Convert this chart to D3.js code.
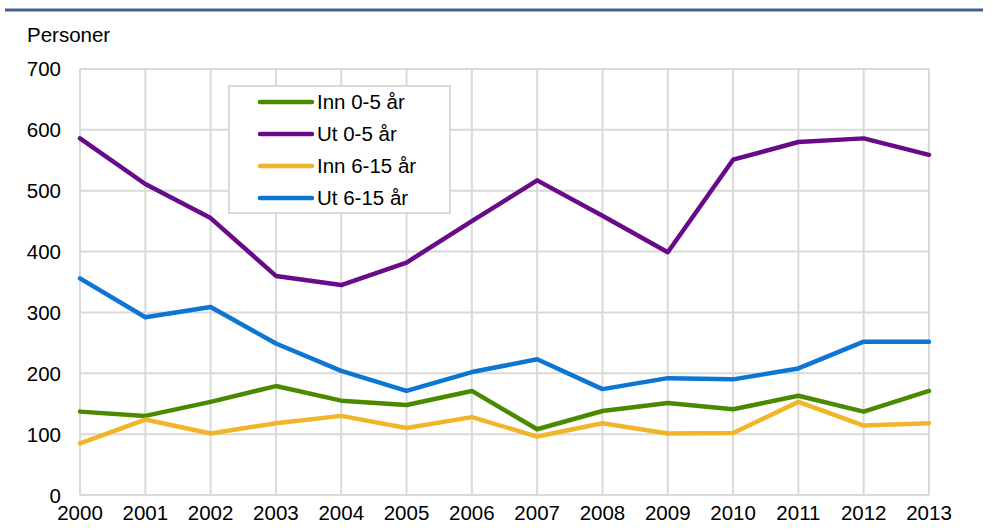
<!DOCTYPE html>
<head>
  <meta charset="utf-8">
  <script src="https://d3js.org/d3.v7.min.js"></script>
  <style>
    body { margin:0; background:#fff; }
    text { font-family: 'Liberation Sans', Arial, sans-serif; fill: #000; }
    .grid-line { stroke: #d9d9d9; stroke-width: 2; }
    .tick-label { font-size: 20.5px; }
    .series-line { fill: none; stroke-width: 4.5; stroke-linejoin: round; stroke-linecap: round; }
    .legend-text { font-size: 20.5px; }
  </style>
</head>
<body>
  <script>
    var years = [2000, 2001, 2002, 2003, 2004, 2005, 2006, 2007, 2008, 2009, 2010, 2011, 2012, 2013];
    var yTicks = [0, 100, 200, 300, 400, 500, 600, 700];

    var seriesNames = ["Inn 0-5 år", "Ut 0-5 år", "Inn 6-15 år", "Ut 6-15 år"];
    var seriesColours = ["#4a8a00", "#680a8a", "#f0b528", "#0c76d2"];

    var inn05  = [137, 130, 153, 179, 155, 148, 171, 108, 138, 151, 141, 163, 137, 171];
    var ut05   = [586, 511, 455, 360, 345, 382, 450, 517, 459, 399, 551, 580, 586, 559];
    var inn615 = [85, 124, 101, 118, 130, 110, 128, 96, 118, 101, 102, 153, 114, 118];
    var ut615  = [356, 292, 309, 249, 204, 171, 202, 223, 174, 192, 190, 208, 252, 252];

    var seriesValues = [inn05, ut05, inn615, ut615];

    var margin = {top: 69, left: 80, right: 64, bottom: 37};
    var W = 993, H = 532;
    var width = W - margin.left - margin.right,
        height = H - margin.top - margin.bottom;

    var root = d3.select("body").append("svg")
        .attr("width", W)
        .attr("height", H);

    // heading rule
    root.append("line")
      .attr("x1", 5).attr("x2", 983)
      .attr("y1", 10).attr("y2", 10)
      .style("stroke", "#44618f")
      .style("stroke-width", 3);

    root.append("text")
      .attr("x", 27).attr("y", 41.5)
      .style("font-size", "20.5px")
      .text("Personer");

    var svg = root.append("g")
      .attr("transform", "translate(" + margin.left + "," + margin.top + ")");

    var x = d3.scaleLinear()
      .domain(d3.extent(years))
      .range([0, width]);

    var y = d3.scaleLinear()
      .domain([0, 700])
      .range([height, 0]);

    // grid
    svg.append("g").selectAll("line")
      .data(yTicks)
      .enter().append("line")
        .attr("class", "grid-line")
        .attr("x1", 0).attr("x2", width)
        .attr("y1", d => y(d)).attr("y2", d => y(d));

    svg.append("g").selectAll("line")
      .data(years)
      .enter().append("line")
        .attr("class", "grid-line")
        .attr("x1", d => x(d)).attr("x2", d => x(d))
        .attr("y1", 0).attr("y2", height);

    // axes labels
    svg.append("g").selectAll("text")
      .data(yTicks)
      .enter().append("text")
        .attr("class", "tick-label")
        .attr("x", -19)
        .attr("y", d => y(d))
        .attr("dy", d => d == 0 ? "0.39em" : "0.36em")
        .attr("text-anchor", "end")
        .text(d => d);

    svg.append("g").selectAll("text")
      .data(years)
      .enter().append("text")
        .attr("class", "tick-label")
        .attr("x", d => x(d))
        .attr("y", height + 25)
        .attr("text-anchor", "middle")
        .text(d => d);

    var line = d3.line()
      .x((d, i) => x(years[i]))
      .y(d => y(d));

    svg.append("g").selectAll("path")
      .data(seriesValues)
      .enter().append("path")
        .attr("class", "series-line")
        .attr("d", d => line(d))
        .style("stroke", (d, i) => seriesColours[i]);

    // legend
    var legend = root.append("g")
      .attr("transform", "translate(229,86)");

    legend.append("rect")
      .attr("width", 221)
      .attr("height", 127)
      .style("fill", "#fff")
      .style("stroke", "#d9d9d9")
      .style("stroke-width", 2);

    var items = legend.selectAll("g.item")
      .data(seriesNames)
      .enter().append("g")
        .attr("class", "item")
        .attr("transform", (d, i) => "translate(0," + (16 + i * 32) + ")");

    items.append("line")
      .attr("x1", 31).attr("x2", 83)
      .attr("y1", 0).attr("y2", 0)
      .style("stroke", (d, i) => seriesColours[i])
      .style("stroke-width", 4.5)
      .style("stroke-linecap", "round");

    items.append("text")
      .attr("class", "legend-text")
      .attr("x", 88)
      .attr("y", 0)
      .attr("dy", "0.36em")
      .text(d => d);
  </script>
</body>
